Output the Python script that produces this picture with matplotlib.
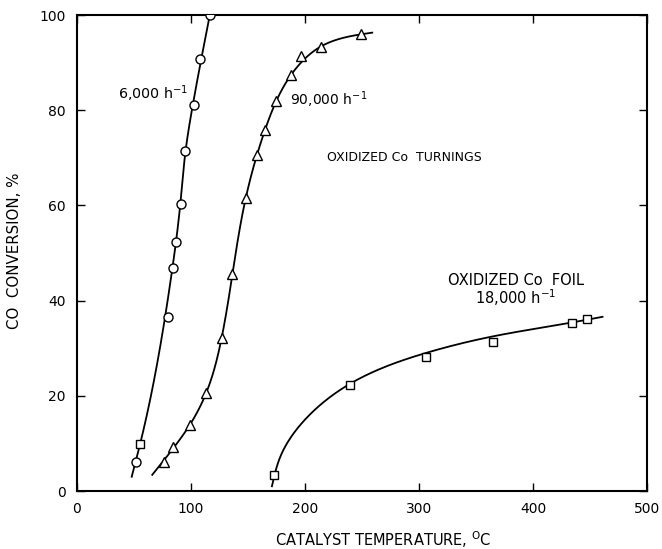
import numpy as np
import matplotlib
matplotlib.use("Agg")
import matplotlib.pyplot as plt

# ---- data ----
circ_x = [52, 80, 84, 87, 91, 95, 103, 108, 117]
circ_y = [6.1, 36.6, 46.9, 52.4, 60.2, 71.4, 81, 90.7, 100]
odd_sq_x = [55]
odd_sq_y = [9.9]
tri_x = [76, 84.5, 99, 113.5, 127, 136, 148, 158, 165, 174.5, 187.5, 196.5, 214, 249]
tri_y = [6.1, 9.3, 13.9, 20.6, 32.2, 45.7, 61.5, 70.5, 75.8, 82, 87.4, 91.4, 93.2, 96]
foil_x = [173, 239.5, 306, 365, 434, 447]
foil_y = [3.4, 22.3, 28.2, 31.4, 35.2, 36.2]

# hand-drawn fitted curves (knots)
circ_curve_x = [48, 56.5, 70.5, 82, 90.5, 95, 101.5, 116.5]
circ_curve_y = [3, 11, 27, 44, 60, 71, 81, 100]
tri_curve_x = [66, 84.5, 99, 113, 127, 136, 148, 165, 188, 214, 259]
tri_curve_y = [3.4, 9.0, 13.9, 20.4, 32.3, 45, 61.5, 75.9, 87.5, 93.4, 96.3]
foil_curve_x = [171, 178, 200, 240, 306, 365, 434, 461]
foil_curve_y = [1, 7, 15, 22.6, 29, 32.5, 35.4, 36.6]

x_ticks = [0, 100, 200, 300, 400, 500]
y_ticks = [0, 20, 40, 60, 80, 100]


def natural_spline(t, v, ts):
    t = np.asarray(t, float); v = np.asarray(v, float)
    n = len(t); h = np.diff(t)
    A = np.zeros((n, n)); b = np.zeros(n)
    A[0, 0] = A[-1, -1] = 1
    for i in range(1, n - 1):
        A[i, i - 1] = h[i - 1]; A[i, i] = 2 * (h[i - 1] + h[i]); A[i, i + 1] = h[i]
        b[i] = 3 * ((v[i + 1] - v[i]) / h[i] - (v[i] - v[i - 1]) / h[i - 1])
    c = np.linalg.solve(A, b)
    bb = (v[1:] - v[:-1]) / h - h * (2 * c[:-1] + c[1:]) / 3
    d = (c[1:] - c[:-1]) / (3 * h)
    idx = np.clip(np.searchsorted(t, ts) - 1, 0, n - 2)
    dt = ts - t[idx]
    return v[idx] + bb[idx] * dt + c[idx] * dt**2 + d[idx] * dt**3


def smooth_curve(xk, yk, sx=1.14, sy=4.75, num=500):
    X = np.asarray(xk, float) * sx; Y = np.asarray(yk, float) * sy
    s = np.concatenate([[0], np.cumsum(np.hypot(np.diff(X), np.diff(Y)))])
    ss = np.linspace(0, s[-1], num)
    return natural_spline(s, X, ss) / sx, natural_spline(s, Y, ss) / sy


fig = plt.figure(figsize=(6.62, 5.49), dpi=100)
ax = fig.add_axes([0.1163, 0.1056, 0.861, 0.867])

lw = 1.3
for cx, cy in [(circ_curve_x, circ_curve_y), (tri_curve_x, tri_curve_y),
               (foil_curve_x, foil_curve_y)]:
    px, py = smooth_curve(cx, cy)
    ax.plot(px, py, color='black', lw=lw)

mk = dict(mfc='white', mec='black', mew=1.0, ls='none', zorder=3)
ax.plot(circ_x, circ_y, marker='o', ms=6.5, **mk)
ax.plot(odd_sq_x, odd_sq_y, marker='s', ms=6, **mk)
ax.plot(tri_x, tri_y, marker='^', ms=6.5, **mk)
ax.plot(foil_x, foil_y, marker='s', ms=6, **mk)

ax.set_xlim(0, 500)
ax.set_ylim(0, 100)
ax.set_xticks(x_ticks)
ax.set_yticks(y_ticks)
ax.tick_params(direction='in', length=6, width=1.0, top=True, right=True,
               labelsize=10, pad=8)
for s in ax.spines.values():
    s.set_linewidth(1.5)

ax.text(36, 83.5, '6,000 h$^{-1}$', fontsize=10.3, va='center', ha='left')
ax.text(187, 82.3, '90,000 h$^{-1}$', fontsize=10, va='center', ha='left')
ax.text(219, 70, 'OXIDIZED Co  TURNINGS', fontsize=9, va='center', ha='left')
ax.text(385, 44.2, 'OXIDIZED Co  FOIL', fontsize=10.5, va='center', ha='center')
ax.text(385, 40.6, '18,000 h$^{-1}$', fontsize=10.5, va='center', ha='center')

ax.set_xlabel('CATALYST TEMPERATURE, $^{\\mathrm{O}}$C', fontsize=10.5)
ax.xaxis.label.set_va('center')
ax.xaxis.set_label_coords(0.537, -0.103)
ax.set_ylabel('CO  CONVERSION, %', fontsize=10.8)
ax.yaxis.label.set_va('center')
ax.yaxis.set_label_coords(-0.109, 0.504)

fig.savefig('out.png', dpi=100)
